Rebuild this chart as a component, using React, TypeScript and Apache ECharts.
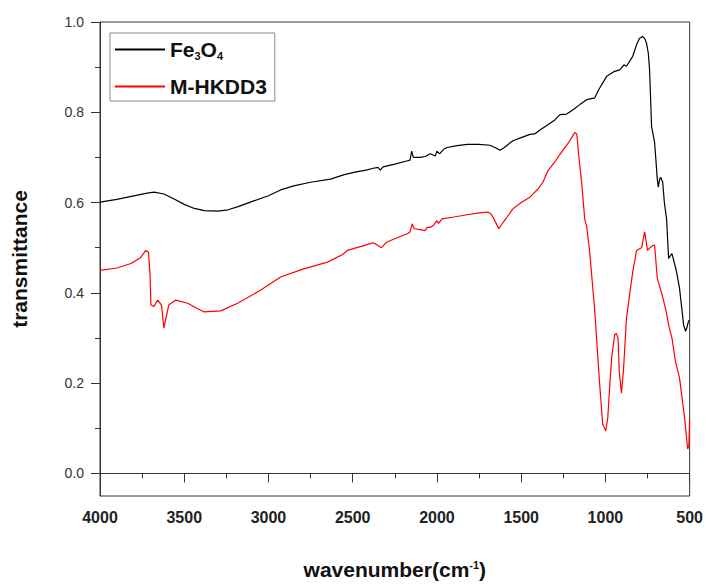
import React, { useEffect, useRef } from "react";
import * as echarts from "echarts";

// Fe3O4 spectrum (wavenumber cm^-1, transmittance)
const waveFe = [
  4000, 3900, 3800, 3720, 3680, 3620, 3560, 3500, 3440, 3380, 3300, 3240, 3180, 3100, 3000,
  2928, 2850, 2750, 2632, 2550, 2480, 2420, 2378, 2350, 2336, 2320, 2250, 2180, 2160, 2150,
  2140, 2100, 2070, 2040, 2010, 2000, 1985, 1960, 1940, 1880, 1821, 1750, 1685, 1650, 1626,
  1600, 1549, 1500, 1448, 1420, 1380, 1348, 1300, 1270, 1230, 1190, 1152, 1111, 1063, 1040,
  992, 950, 915, 890, 875, 838, 815, 797, 779, 765, 756, 745, 738, 726, 708,
  692, 686, 678, 672, 660, 650, 637, 625, 615, 605, 590, 578, 560, 545, 536,
  524, 515, 507, 500,
];
const transFe = [
  0.601, 0.607, 0.615, 0.621, 0.623, 0.619, 0.608, 0.596, 0.587, 0.582, 0.581, 0.584, 0.591, 0.602, 0.615,
  0.628, 0.637, 0.645, 0.652, 0.662, 0.668, 0.672, 0.676, 0.678, 0.672, 0.679, 0.685, 0.692, 0.694, 0.714,
  0.7, 0.7, 0.702, 0.708, 0.703, 0.714, 0.708, 0.718, 0.722, 0.726, 0.729, 0.729, 0.727, 0.721, 0.716,
  0.722, 0.737, 0.744, 0.751, 0.752, 0.763, 0.771, 0.783, 0.795, 0.796, 0.806, 0.817, 0.828, 0.832, 0.85,
  0.88, 0.89, 0.894, 0.905, 0.902, 0.924, 0.95, 0.964, 0.968, 0.962, 0.953, 0.93, 0.894, 0.769, 0.733,
  0.652, 0.634, 0.652, 0.656, 0.645, 0.6, 0.564, 0.476, 0.482, 0.487, 0.465, 0.447, 0.41, 0.36, 0.329,
  0.315, 0.325, 0.337, 0.34,
];

// M-HKDD3 spectrum
const waveM = [
  4000, 3900, 3816, 3760, 3728, 3712, 3703, 3698, 3680, 3657, 3645, 3635, 3621, 3605, 3592,
  3550, 3479, 3420, 3384, 3284, 3183, 3050, 2928, 2800, 2650, 2560, 2532, 2450, 2396, 2378,
  2350, 2330, 2300, 2250, 2176, 2160, 2147, 2135, 2100, 2070, 2058, 2040, 2020, 2000, 1990,
  1970, 1900, 1821, 1750, 1697, 1680, 1665, 1650, 1633, 1615, 1595, 1549, 1500, 1448, 1400,
  1371, 1342, 1300, 1270, 1220, 1182, 1170, 1160, 1140, 1123, 1111, 1093, 1063, 1034, 1016,
  998, 986, 975, 963, 945, 935, 925, 918, 905, 893, 875, 855, 838, 815, 800,
  785, 767, 750, 735, 718, 708, 692, 663, 640, 621, 605, 585, 560, 530, 512,
  505, 500,
];
const transM = [
  0.45, 0.455, 0.465, 0.478, 0.494, 0.49, 0.44, 0.373, 0.37, 0.384, 0.378, 0.373, 0.322, 0.35, 0.373,
  0.384, 0.377, 0.365, 0.358, 0.36, 0.377, 0.405, 0.435, 0.452, 0.468, 0.485, 0.494, 0.503, 0.509, 0.511,
  0.505, 0.5, 0.512, 0.52, 0.531, 0.535, 0.553, 0.542, 0.54, 0.538, 0.545, 0.545, 0.55, 0.56, 0.554,
  0.564, 0.568, 0.573, 0.577, 0.579, 0.575, 0.566, 0.555, 0.542, 0.552, 0.562, 0.586, 0.6, 0.612, 0.63,
  0.645, 0.67, 0.69, 0.707, 0.732, 0.755, 0.752, 0.711, 0.64, 0.564, 0.546, 0.49, 0.358, 0.197, 0.109,
  0.094, 0.123, 0.19, 0.256, 0.307, 0.31, 0.3, 0.227, 0.178, 0.227, 0.344, 0.4, 0.446, 0.494, 0.497,
  0.5, 0.535, 0.494, 0.5, 0.505, 0.505, 0.432, 0.395, 0.36, 0.322, 0.3, 0.25, 0.211, 0.123, 0.054,
  0.06, 0.12,
];

const yMajorTicks = [0, 0.2, 0.4, 0.6, 0.8, 1.0];
const yMinorTicks = [0.1, 0.3, 0.5, 0.7, 0.9];
const seriesNames = ["Fe3O4", "M-HKDD3"];

const FONT = "'Liberation Sans', Arial, sans-serif";

export default function App() {
  const ref = useRef<HTMLDivElement>(null);
  useEffect(() => {
    if (!ref.current) return;
    const chart = echarts.init(ref.current, null, { renderer: "svg" });
    const pair = (w: number[], t: number[]) => w.map((x, i) => [x, t[i]]);
    chart.setOption({
      animation: false,
      textStyle: { fontFamily: FONT },
      grid: {
        left: 100,
        right: 16,
        top: 22,
        bottom: 86,
        show: true,
        borderColor: "#333",
        borderWidth: 1,
      },
      legend: {
        orient: "vertical",
        left: 110,
        top: 33,
        padding: [6, 8, 4, 5],
        itemGap: 15,
        itemWidth: 50,
        itemHeight: 2,
        icon: "rect",
        borderColor: "#888",
        borderWidth: 1,
        data: seriesNames,
        formatter: (name: string) =>
          name === "Fe3O4" ? "{n|Fe}{s|3}{n|O}{s|4}" : "{n|" + name + "}",
        textStyle: {
          fontFamily: FONT,
          rich: {
            n: { fontSize: 21, fontWeight: "bold", color: "#111", fontFamily: FONT },
            s: {
              fontSize: 11,
              fontWeight: "bold",
              color: "#111",
              fontFamily: FONT,
              verticalAlign: "bottom",
              padding: [12, 0, 0, 0],
            },
          },
        },
      },
      xAxis: {
        type: "value",
        inverse: true,
        min: 500,
        max: 4000,
        interval: 500,
        name: "{n|wavenumber(cm}{s|-1}{n|)}",
        nameLocation: "middle",
        nameGap: 63,
        nameTextStyle: {
          rich: {
            n: { fontSize: 21, fontWeight: "bold", color: "#111", fontFamily: FONT },
            s: {
              fontSize: 11,
              fontWeight: "bold",
              color: "#111",
              fontFamily: FONT,
              verticalAlign: "top",
            },
          },
        },
        axisLine: { lineStyle: { color: "#333", width: 1 } },
        axisTick: { show: true, inside: false, length: 9, lineStyle: { color: "#333" } },
        minorTick: { show: true, splitNumber: 2, length: 5, lineStyle: { color: "#333" } },
        axisLabel: {
          fontSize: 16,
          fontWeight: "bold",
          color: "#222",
          fontFamily: FONT,
          margin: 13,
          formatter: (v: number) => String(v),
          showMinLabel: true,
          showMaxLabel: true,
        },
        splitLine: { show: false },
      },
      yAxis: [
        {
          type: "value",
          min: -0.05,
          max: 1.0,
          name: "transmittance",
          nameLocation: "middle",
          nameGap: 70,
          nameTextStyle: { fontSize: 21, fontWeight: "bold", color: "#111", fontFamily: FONT },
          axisLine: { show: true, lineStyle: { color: "#333", width: 1 } },
          axisTick: {
            show: true,
            length: 9,
            customValues: yMajorTicks,
            lineStyle: { color: "#333" },
          },
          axisLabel: {
            customValues: yMajorTicks,
            formatter: (v: number) => v.toFixed(1),
            fontSize: 14,
            color: "#333",
            fontFamily: FONT,
            margin: 16,
          },
          splitLine: { show: false },
        },
        {
          type: "value",
          min: -0.05,
          max: 1.0,
          position: "left",
          axisLine: { show: false },
          axisTick: {
            show: true,
            length: 5,
            customValues: yMinorTicks,
            lineStyle: { color: "#333" },
          },
          axisLabel: { show: false },
          splitLine: { show: false },
        },
      ],
      series: [
        {
          name: seriesNames[0],
          type: "line",
          data: pair(waveFe, transFe),
          symbol: "none",
          lineStyle: { color: "#000", width: 1.2 },
          itemStyle: { color: "#000" },
        },
        {
          name: seriesNames[1],
          type: "line",
          data: pair(waveM, transM),
          symbol: "none",
          lineStyle: { color: "#ff0000", width: 1.2 },
          itemStyle: { color: "#ff0000" },
        },
      ],
    });
    return () => chart.dispose();
  }, []);
  return (
    <div
      ref={ref}
      style={{ position: "absolute", left: 0, top: 0, width: 706, height: 585, background: "#fff" }}
    />
  );
}
